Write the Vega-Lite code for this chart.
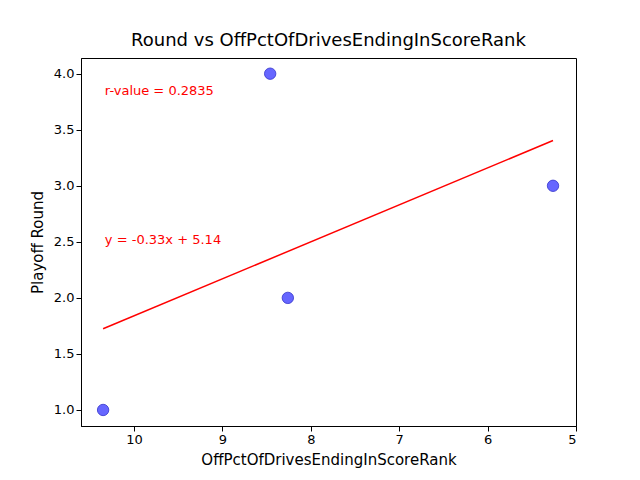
{
  "$schema": "https://vega.github.io/schema/vega-lite/v6.json",
  "width": 495, "height": 368,
  "autosize": {"type": "none"},
  "padding": {"left": 81, "top": 58, "right": 64, "bottom": 54},
  "title": {"text": "Round vs OffPctOfDrivesEndingInScoreRank", "font": "DejaVu Sans", "fontSize": 18, "fontWeight": "normal", "offset": 8},
  "config": {"view": {"stroke": "black"}, "axis": {"labelFont": "DejaVu Sans", "titleFont": "DejaVu Sans", "labelFontSize": 13, "titleFontSize": 15, "titleFontWeight": "normal", "grid": false, "domainColor": "black", "tickColor": "black", "labelColor": "black", "titleColor": "black"}},
  "layer": [
    {
      "data": {"values": [{"x": 10.35, "y": 1}, {"x": 8.46, "y": 4}, {"x": 8.26, "y": 2}, {"x": 5.26, "y": 3}]},
      "mark": {"type": "circle", "size": 130, "fill": "blue", "fillOpacity": 0.6, "stroke": "#3333cc", "strokeOpacity": 0.8, "strokeWidth": 1},
      "encoding": {
        "x": {"field": "x", "type": "quantitative", "scale": {"domain": [5, 10.6], "reverse": true, "nice": false, "zero": false}, "axis": {"values": [5, 6, 7, 8, 9, 10], "format": "d", "title": "OffPctOfDrivesEndingInScoreRank", "titlePadding": 6}},
        "y": {"field": "y", "type": "quantitative", "scale": {"domain": [0.857, 4.14], "nice": false, "zero": false}, "axis": {"values": [1, 1.5, 2, 2.5, 3, 3.5, 4], "format": ".1f", "title": "Playoff Round", "titlePadding": 8}}
      }
    },
    {
      "data": {"values": [{"x": 10.35, "y": 1.7245}, {"x": 5.26, "y": 3.4042}]},
      "mark": {"type": "line", "color": "red", "strokeWidth": 1.5},
      "encoding": {"x": {"field": "x", "type": "quantitative"}, "y": {"field": "y", "type": "quantitative"}}
    },
    {
      "data": {"values": [{"x": 10.33, "y": 3.85, "t": "r-value = 0.2835"}, {"x": 10.33, "y": 2.52, "t": "y = -0.33x + 5.14"}]},
      "mark": {"type": "text", "color": "red", "align": "left", "baseline": "middle", "font": "DejaVu Sans", "fontSize": 13},
      "encoding": {"x": {"field": "x", "type": "quantitative"}, "y": {"field": "y", "type": "quantitative"}, "text": {"field": "t"}}
    }
  ]
}
